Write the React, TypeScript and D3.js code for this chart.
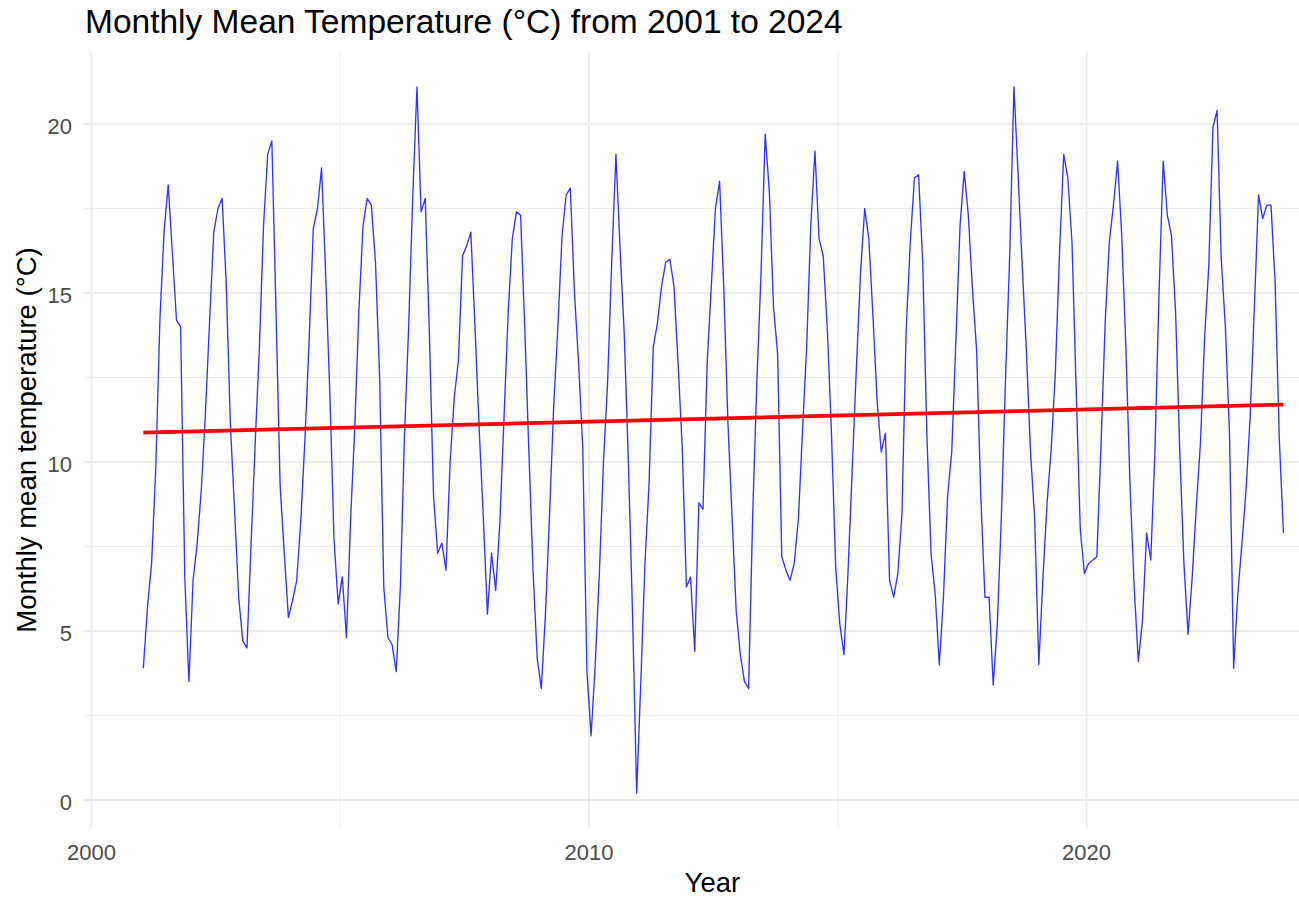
import React from 'react';
import * as d3 from 'd3';

// Monthly mean temperature (°C), Jan..Dec for each year
const startYear = 2001;
const t2001 = [3.9, 5.7, 7.0, 9.8, 14.2, 16.8, 18.2, 16.2, 14.2, 14.0, 6.6, 3.5];
const t2002 = [6.5, 7.6, 9.2, 11.5, 14.2, 16.8, 17.5, 17.8, 15.3, 11.1, 8.6, 6.0];
const t2003 = [4.7, 4.5, 7.6, 10.6, 13.4, 17.0, 19.1, 19.5, 14.5, 9.3, 7.3, 5.4];
const t2004 = [5.9, 6.5, 8.3, 10.7, 13.6, 16.9, 17.5, 18.7, 15.5, 12.0, 7.7, 5.8];
const t2005 = [6.6, 4.8, 8.3, 11.0, 14.5, 17.0, 17.8, 17.6, 15.9, 12.5, 6.3, 4.8];
const t2006 = [4.6, 3.8, 6.3, 10.8, 14.0, 17.9, 21.1, 17.4, 17.8, 13.8, 9.0, 7.3];
const t2007 = [7.6, 6.8, 10.0, 11.9, 13.0, 16.1, 16.4, 16.8, 14.0, 11.0, 8.4, 5.5];
const t2008 = [7.3, 6.2, 8.2, 11.3, 14.4, 16.6, 17.4, 17.3, 14.0, 10.3, 6.8, 4.2];
const t2009 = [3.3, 5.5, 8.5, 11.7, 14.0, 16.7, 17.9, 18.1, 15.0, 12.9, 10.4, 3.8];
const t2010 = [1.9, 4.0, 6.7, 10.0, 12.4, 16.0, 19.1, 16.3, 13.8, 10.0, 5.5, 0.2];
const t2011 = [3.5, 7.0, 9.4, 13.4, 14.1, 15.2, 15.9, 16.0, 15.2, 12.9, 10.4, 6.3];
const t2012 = [6.6, 4.4, 8.8, 8.6, 12.9, 15.2, 17.5, 18.3, 15.2, 11.2, 8.4, 5.6];
const t2013 = [4.3, 3.5, 3.3, 8.5, 12.4, 15.6, 19.7, 18.0, 14.6, 13.2, 7.2, 6.8];
const t2014 = [6.5, 7.0, 8.3, 10.9, 13.4, 17.0, 19.2, 16.6, 16.1, 13.9, 10.8, 6.9];
const t2015 = [5.2, 4.3, 6.8, 9.8, 12.8, 15.6, 17.5, 16.6, 14.3, 11.8, 10.3, 10.85];
const t2016 = [6.5, 6.0, 6.7, 8.5, 13.9, 16.5, 18.4, 18.5, 15.9, 10.8, 7.3, 6.1];
const t2017 = [4.0, 6.0, 9.0, 10.3, 13.6, 17.0, 18.6, 17.3, 15.1, 13.3, 9.0, 6.0];
const t2018 = [6.0, 3.4, 5.2, 8.5, 12.6, 16.2, 21.1, 18.5, 15.8, 13.3, 10.3, 8.3];
const t2019 = [4.0, 6.6, 8.8, 10.4, 12.7, 16.2, 19.1, 18.4, 16.5, 12.2, 8.0, 6.7];
const t2020 = [7.0, 7.1, 7.2, 10.5, 14.1, 16.5, 17.6, 18.9, 16.7, 13.4, 9.3, 6.3];
const t2021 = [4.1, 5.3, 7.9, 7.1, 10.3, 15.0, 18.9, 17.3, 16.7, 14.4, 10.3, 7.0];
const t2022 = [4.9, 6.6, 8.7, 10.6, 13.7, 15.8, 19.9, 20.4, 16.0, 14.0, 10.8, 3.9];
const t2023 = [6.1, 7.6, 9.2, 11.4, 14.6, 17.9, 17.2, 17.6, 17.6, 15.3, 10.7, 7.9];

const yearlySeries = [
  t2001, t2002, t2003, t2004, t2005, t2006, t2007, t2008, t2009, t2010, t2011, t2012,
  t2013, t2014, t2015, t2016, t2017, t2018, t2019, t2020, t2021, t2022, t2023,
];

// Linear trend (start, end)
const trendValues = [10.87, 11.7];

const xMajorTicks = [2000, 2010, 2020];
const xMinorTicks = [2005, 2015, 2025];
const yMajorTicks = [0, 5, 10, 15, 20];
const yMinorTicks = [2.5, 7.5, 12.5, 17.5];

const titleText = 'Monthly Mean Temperature (°C) from 2001 to 2024';
const xTitle = 'Year';
const yTitle = 'Monthly mean temperature (°C)';

type Pt = { t: number; v: number };

export default function App() {
  const W = 1299;
  const H = 900;
  const font = "'Liberation Sans', Arial, Helvetica, sans-serif";

  const points: Pt[] = yearlySeries.flatMap((arr, yi) =>
    arr.map((v, mi) => ({ t: startYear + yi + (mi + 0.5) / 12, v }))
  );

  const x = d3.scaleLinear().domain([2000, 2020]).range([91.5, 1086.5]);
  const y = d3.scaleLinear().domain([0, 20]).range([800, 124]);

  const tExt = d3.extent(points, (d) => d.t) as [number, number];
  const vExt = d3.extent(points, (d) => d.v) as [number, number];
  const tPad = (tExt[1] - tExt[0]) * 0.05;
  const vPad = (vExt[1] - vExt[0]) * 0.05;
  const pLeft = x(tExt[0] - tPad) - 2;
  const pRight = x(tExt[1] + tPad);
  const pTop = y(vExt[1] + vPad);
  const pBottom = y(vExt[0] - vPad);

  const line = d3
    .line<Pt>()
    .x((d) => x(d.t))
    .y((d) => y(d.v));

  const trendPts: Pt[] = [
    { t: tExt[0], v: trendValues[0] },
    { t: tExt[1], v: trendValues[1] },
  ];

  return (
    <svg
      width={W}
      height={H}
      style={{ position: 'absolute', left: 0, top: 0, background: '#fff' }}
      fontFamily={font}
    >
      <rect x={0} y={0} width={W} height={H} fill="#ffffff" />
      <defs>
        <clipPath id="panel">
          <rect x={pLeft} y={pTop} width={pRight - pLeft} height={pBottom - pTop} />
        </clipPath>
      </defs>
      <g clipPath="url(#panel)">
        {yMinorTicks.map((t) => (
          <line key={'ym' + t} x1={pLeft} x2={pRight} y1={y(t)} y2={y(t)} stroke="#EBEBEB" strokeWidth={0.9} />
        ))}
        {xMinorTicks.map((t) => (
          <line key={'xm' + t} x1={x(t)} x2={x(t)} y1={pTop} y2={pBottom} stroke="#EBEBEB" strokeWidth={0.9} />
        ))}
        {yMajorTicks.map((t) => (
          <line key={'yM' + t} x1={pLeft} x2={pRight} y1={y(t)} y2={y(t)} stroke="#EBEBEB" strokeWidth={1.8} />
        ))}
        {xMajorTicks.map((t) => (
          <line key={'xM' + t} x1={x(t)} x2={x(t)} y1={pTop} y2={pBottom} stroke="#EBEBEB" strokeWidth={1.8} />
        ))}
        <path d={line(points) || ''} fill="none" stroke="#0000ff" strokeOpacity={0.8} strokeWidth={1.35} strokeLinejoin="round" />
        <path d={line(trendPts) || ''} fill="none" stroke="#ff0000" strokeWidth={3.8} />
      </g>

      {yMajorTicks.map((t) => (
        <text key={'yl' + t} x={72} y={y(t) + 10} textAnchor="end" fontSize={22} fill="#4D4D4D">
          {t}
        </text>
      ))}
      {xMajorTicks.map((t) => (
        <text key={'xl' + t} x={x(t)} y={860} textAnchor="middle" fontSize={22} fill="#4D4D4D">
          {t}
        </text>
      ))}

      <text x={(pLeft + pRight) / 2} y={891.5} textAnchor="middle" fontSize={27.5} fill="#000">
        {xTitle}
      </text>
      <text
        transform={`translate(35.5, ${(pTop + pBottom) / 2}) rotate(-90)`}
        textAnchor="middle"
        fontSize={27.5}
        fill="#000"
      >
        {yTitle}
      </text>
      <text x={85} y={33} fontSize={33.5} fill="#000">
        {titleText}
      </text>
    </svg>
  );
}
